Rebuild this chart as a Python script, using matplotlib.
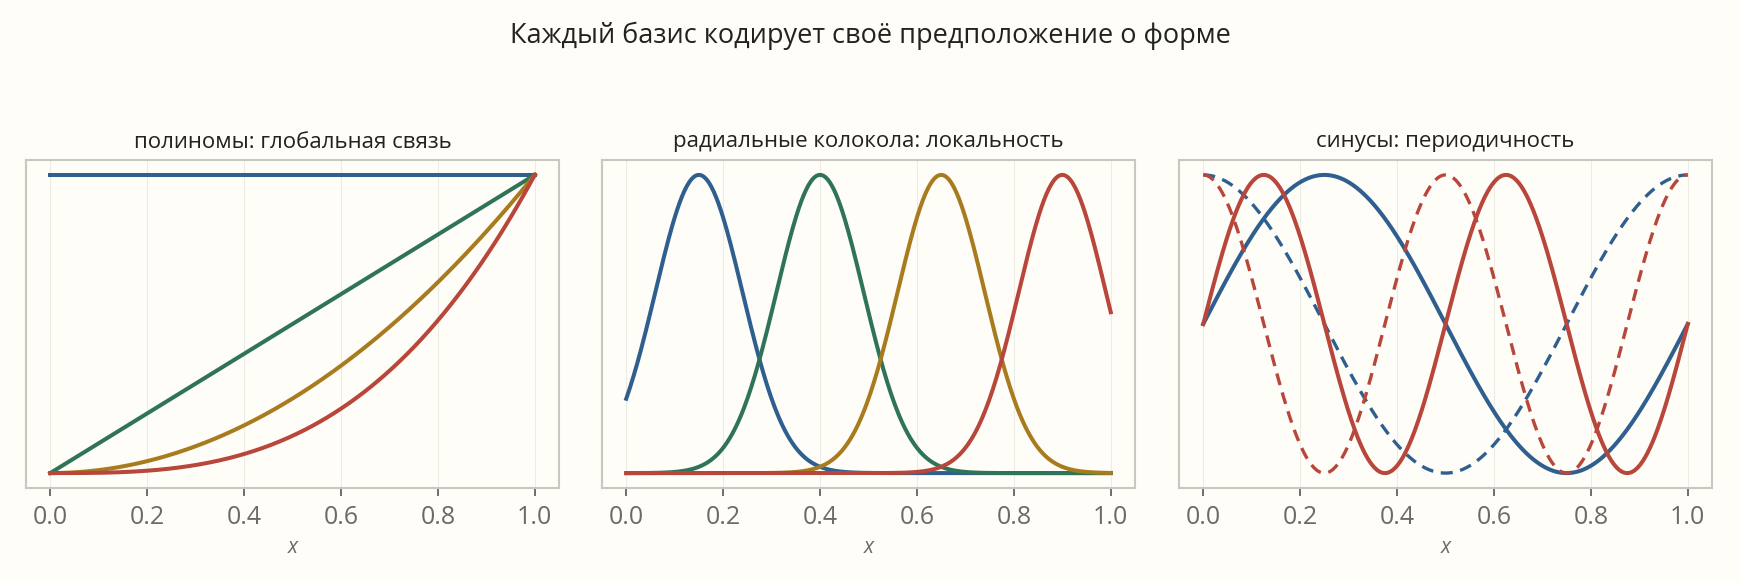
import matplotlib
matplotlib.use("Agg")
import matplotlib.pyplot as plt
import numpy as np

plt.rcParams["font.family"] = ["Open Sans", "DejaVu Sans"]

# chart content
suptitle = "Каждый базис кодирует своё предположение о форме"
panel_titles = ["полиномы: глобальная связь",
                "радиальные колокола: локальность",
                "синусы: периодичность"]
xlabel = "x"
xticks = [0.0, 0.2, 0.4, 0.6, 0.8, 1.0]

poly_degrees = [0, 1, 2, 3]
rbf_centers = [0.15, 0.40, 0.65, 0.90]
rbf_width = 0.09
sine_freqs = [1, 2]          # sin/cos(2*pi*k*x)

colors4 = ["#2f5f8f", "#2f7358", "#a87b1f", "#b8463a"]
sine_colors = ["#2f5f8f", "#b8463a"]
bg = "#fefdf8"

x = np.linspace(0, 1, 400)

fig = plt.figure(figsize=(17.4, 5.82), dpi=100, facecolor=bg)
axes = [fig.add_axes([l / 1740, 1 - 488 / 582, 533 / 1740, 328 / 582])
        for l in (26, 602, 1179)]

for ax, title in zip(axes, panel_titles):
    ax.set_facecolor(bg)
    ax.set_title(title, fontsize=16, color="#222222", pad=9)
    ax.set_xticks(xticks)
    ax.set_xticklabels([f"{t:.1f}" for t in xticks])
    ax.set_yticks([])
    ax.tick_params(axis="x", labelsize=18, colors="#555555", length=6, width=1.2,
                   pad=6, labelcolor="#6b6b66")
    ax.set_xlabel(xlabel, fontsize=15, color="#6b6b66", style="italic", labelpad=5)
    ax.grid(axis="x", color="#ecebe4", linewidth=0.8)
    ax.set_axisbelow(True)
    for s in ax.spines.values():
        s.set_color("#c9c8c0")
        s.set_linewidth(1.5)

lw = 2.9
for d, c in zip(poly_degrees, colors4):
    axes[0].plot(x, x ** d, color=c, lw=lw)

for m, c in zip(rbf_centers, colors4):
    axes[1].plot(x, np.exp(-(x - m) ** 2 / (2 * rbf_width ** 2)), color=c, lw=lw)

for k, c in zip(sine_freqs, sine_colors):
    axes[2].plot(x, np.sin(2 * np.pi * k * x), color=c, lw=lw)
    axes[2].plot(x, np.cos(2 * np.pi * k * x), color=c, lw=2.4, dashes=(3.6, 2.3))

fig.suptitle(suptitle, fontsize=19.5, color="#222222", y=1 - 36 / 582, va="center")

fig.savefig("out.png", dpi=100, facecolor=bg)
